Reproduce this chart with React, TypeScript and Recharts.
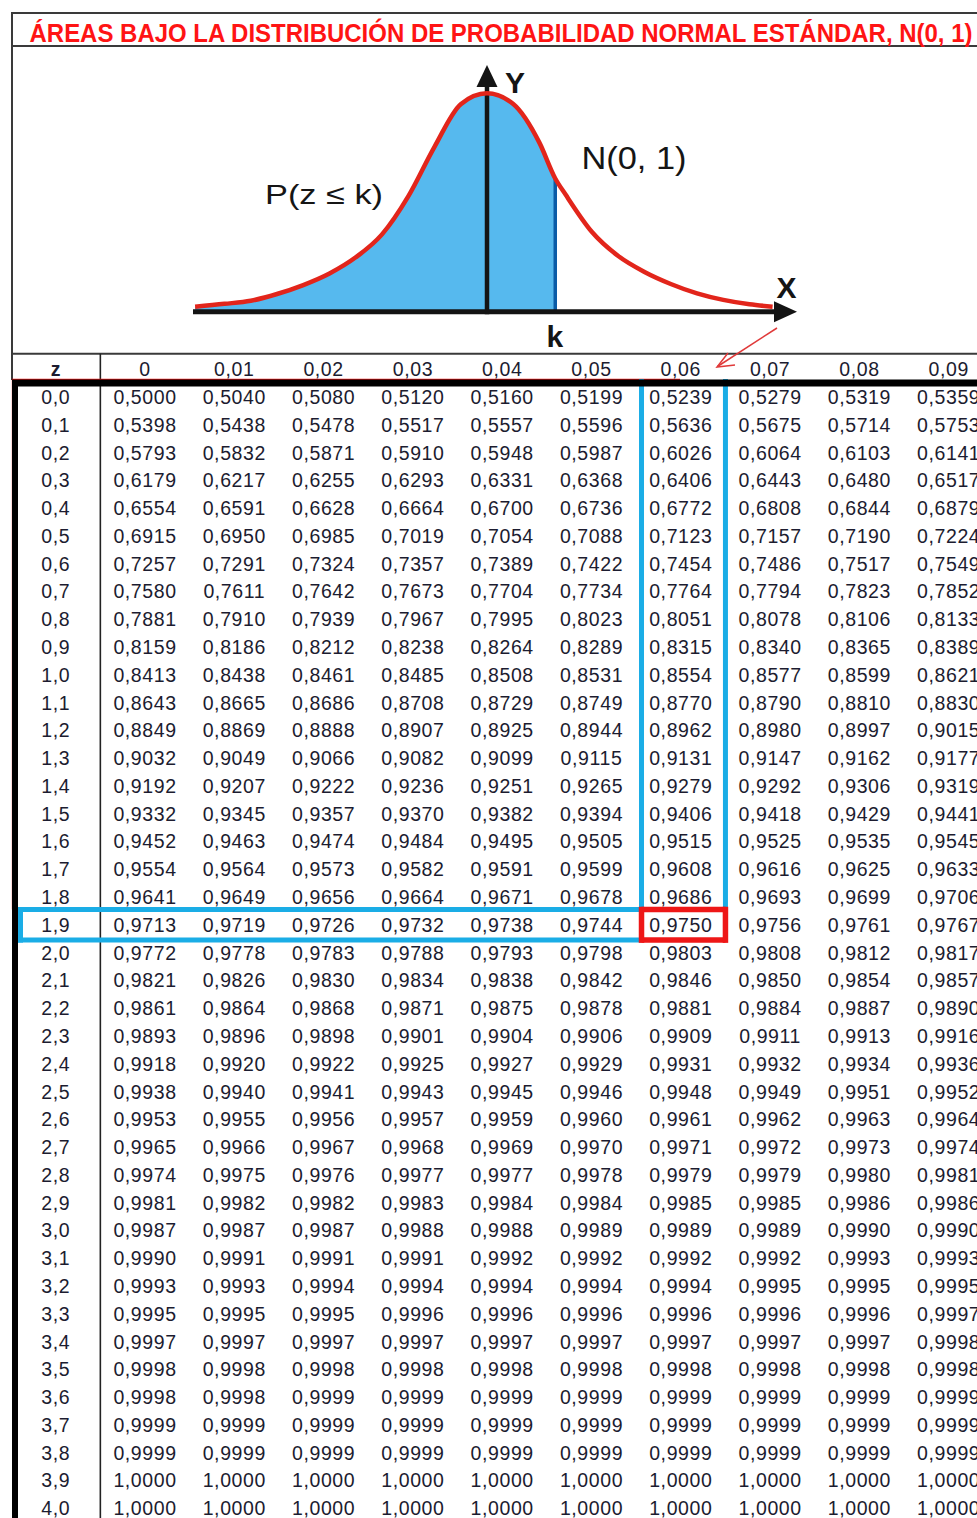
import React from 'react';
import {
  ComposedChart,
  Area,
  Line,
  XAxis,
  YAxis,
  ReferenceLine,
  ScatterChart,
  Scatter,
} from 'recharts';

// ---------- Curve ----------
const zCurva = [-2.78, -2.5, -2.25, -2.0, -1.75, -1.5, -1.25, -1.0, -0.75, -0.5, -0.25, 0, 0.25, 0.5, 0.65, 0.75, 1.0, 1.25, 1.5, 1.75, 2.0, 2.25, 2.5, 2.72];
const densidadCurva = [0.023, 0.036, 0.05, 0.081, 0.122, 0.175, 0.249, 0.354, 0.528, 0.755, 0.95, 1.0, 0.951, 0.773, 0.61, 0.535, 0.365, 0.255, 0.182, 0.127, 0.084, 0.054, 0.034, 0.023];
const kValor = 0.65;

// ---------- Table ----------
const titulo = 'ÁREAS BAJO LA DISTRIBUCIÓN DE PROBABILIDAD NORMAL ESTÁNDAR, N(0, 1)';
const encabezadoColumnas = ['0', '0,01', '0,02', '0,03', '0,04', '0,05', '0,06', '0,07', '0,08', '0,09'];
const etiquetasZ = [
  '0,0', '0,1', '0,2', '0,3', '0,4', '0,5', '0,6', '0,7', '0,8', '0,9',
  '1,0', '1,1', '1,2', '1,3', '1,4', '1,5', '1,6', '1,7', '1,8', '1,9',
  '2,0', '2,1', '2,2', '2,3', '2,4', '2,5', '2,6', '2,7', '2,8', '2,9',
  '3,0', '3,1', '3,2', '3,3', '3,4', '3,5', '3,6', '3,7', '3,8', '3,9', '4,0',
];
const tabla: number[][] = [
  [0.5000, 0.5040, 0.5080, 0.5120, 0.5160, 0.5199, 0.5239, 0.5279, 0.5319, 0.5359],
  [0.5398, 0.5438, 0.5478, 0.5517, 0.5557, 0.5596, 0.5636, 0.5675, 0.5714, 0.5753],
  [0.5793, 0.5832, 0.5871, 0.5910, 0.5948, 0.5987, 0.6026, 0.6064, 0.6103, 0.6141],
  [0.6179, 0.6217, 0.6255, 0.6293, 0.6331, 0.6368, 0.6406, 0.6443, 0.6480, 0.6517],
  [0.6554, 0.6591, 0.6628, 0.6664, 0.6700, 0.6736, 0.6772, 0.6808, 0.6844, 0.6879],
  [0.6915, 0.6950, 0.6985, 0.7019, 0.7054, 0.7088, 0.7123, 0.7157, 0.7190, 0.7224],
  [0.7257, 0.7291, 0.7324, 0.7357, 0.7389, 0.7422, 0.7454, 0.7486, 0.7517, 0.7549],
  [0.7580, 0.7611, 0.7642, 0.7673, 0.7704, 0.7734, 0.7764, 0.7794, 0.7823, 0.7852],
  [0.7881, 0.7910, 0.7939, 0.7967, 0.7995, 0.8023, 0.8051, 0.8078, 0.8106, 0.8133],
  [0.8159, 0.8186, 0.8212, 0.8238, 0.8264, 0.8289, 0.8315, 0.8340, 0.8365, 0.8389],
  [0.8413, 0.8438, 0.8461, 0.8485, 0.8508, 0.8531, 0.8554, 0.8577, 0.8599, 0.8621],
  [0.8643, 0.8665, 0.8686, 0.8708, 0.8729, 0.8749, 0.8770, 0.8790, 0.8810, 0.8830],
  [0.8849, 0.8869, 0.8888, 0.8907, 0.8925, 0.8944, 0.8962, 0.8980, 0.8997, 0.9015],
  [0.9032, 0.9049, 0.9066, 0.9082, 0.9099, 0.9115, 0.9131, 0.9147, 0.9162, 0.9177],
  [0.9192, 0.9207, 0.9222, 0.9236, 0.9251, 0.9265, 0.9279, 0.9292, 0.9306, 0.9319],
  [0.9332, 0.9345, 0.9357, 0.9370, 0.9382, 0.9394, 0.9406, 0.9418, 0.9429, 0.9441],
  [0.9452, 0.9463, 0.9474, 0.9484, 0.9495, 0.9505, 0.9515, 0.9525, 0.9535, 0.9545],
  [0.9554, 0.9564, 0.9573, 0.9582, 0.9591, 0.9599, 0.9608, 0.9616, 0.9625, 0.9633],
  [0.9641, 0.9649, 0.9656, 0.9664, 0.9671, 0.9678, 0.9686, 0.9693, 0.9699, 0.9706],
  [0.9713, 0.9719, 0.9726, 0.9732, 0.9738, 0.9744, 0.9750, 0.9756, 0.9761, 0.9767],
  [0.9772, 0.9778, 0.9783, 0.9788, 0.9793, 0.9798, 0.9803, 0.9808, 0.9812, 0.9817],
  [0.9821, 0.9826, 0.9830, 0.9834, 0.9838, 0.9842, 0.9846, 0.9850, 0.9854, 0.9857],
  [0.9861, 0.9864, 0.9868, 0.9871, 0.9875, 0.9878, 0.9881, 0.9884, 0.9887, 0.9890],
  [0.9893, 0.9896, 0.9898, 0.9901, 0.9904, 0.9906, 0.9909, 0.9911, 0.9913, 0.9916],
  [0.9918, 0.9920, 0.9922, 0.9925, 0.9927, 0.9929, 0.9931, 0.9932, 0.9934, 0.9936],
  [0.9938, 0.9940, 0.9941, 0.9943, 0.9945, 0.9946, 0.9948, 0.9949, 0.9951, 0.9952],
  [0.9953, 0.9955, 0.9956, 0.9957, 0.9959, 0.9960, 0.9961, 0.9962, 0.9963, 0.9964],
  [0.9965, 0.9966, 0.9967, 0.9968, 0.9969, 0.9970, 0.9971, 0.9972, 0.9973, 0.9974],
  [0.9974, 0.9975, 0.9976, 0.9977, 0.9977, 0.9978, 0.9979, 0.9979, 0.9980, 0.9981],
  [0.9981, 0.9982, 0.9982, 0.9983, 0.9984, 0.9984, 0.9985, 0.9985, 0.9986, 0.9986],
  [0.9987, 0.9987, 0.9987, 0.9988, 0.9988, 0.9989, 0.9989, 0.9989, 0.9990, 0.9990],
  [0.9990, 0.9991, 0.9991, 0.9991, 0.9992, 0.9992, 0.9992, 0.9992, 0.9993, 0.9993],
  [0.9993, 0.9993, 0.9994, 0.9994, 0.9994, 0.9994, 0.9994, 0.9995, 0.9995, 0.9995],
  [0.9995, 0.9995, 0.9995, 0.9996, 0.9996, 0.9996, 0.9996, 0.9996, 0.9996, 0.9997],
  [0.9997, 0.9997, 0.9997, 0.9997, 0.9997, 0.9997, 0.9997, 0.9997, 0.9997, 0.9998],
  [0.9998, 0.9998, 0.9998, 0.9998, 0.9998, 0.9998, 0.9998, 0.9998, 0.9998, 0.9998],
  [0.9998, 0.9998, 0.9999, 0.9999, 0.9999, 0.9999, 0.9999, 0.9999, 0.9999, 0.9999],
  [0.9999, 0.9999, 0.9999, 0.9999, 0.9999, 0.9999, 0.9999, 0.9999, 0.9999, 0.9999],
  [0.9999, 0.9999, 0.9999, 0.9999, 0.9999, 0.9999, 0.9999, 0.9999, 0.9999, 0.9999],
  [1.0000, 1.0000, 1.0000, 1.0000, 1.0000, 1.0000, 1.0000, 1.0000, 1.0000, 1.0000],
  [1.0000, 1.0000, 1.0000, 1.0000, 1.0000, 1.0000, 1.0000, 1.0000, 1.0000, 1.0000],
];
const filaResaltada = 19; // z = 1,9
const colResaltada = 6; // 0,06

// ---------- Layout ----------
const W = 977;
const H = 1518;
const FONT = '"Liberation Sans", Arial, Helvetica, sans-serif';
const colX0 = 145;
const colPaso = 89.3;
const filaY0 = 397;
const filaPaso = 27.78;
const cx = (px: number) => (px - colX0) / colPaso;
const ry = (py: number) => (py - filaY0) / filaPaso;

// Curve chart box
const curvaLeft = 150;
const curvaTop = 50;
const curvaW = 700;
const curvaH = 290;
const zOrigenPx = 487;
const zEscala = 105;
const baseYPx = 311.7;
const altoPico = 218.4;
const zDom: [number, number] = [(curvaLeft - zOrigenPx) / zEscala, (curvaLeft + curvaW - zOrigenPx) / zEscala];
const yDom: [number, number] = [(baseYPx - (curvaTop + curvaH)) / altoPico, (baseYPx - curvaTop) / altoPico];

const datosCurva = zCurva.map((z, i) => ({
  z,
  densidad: densidadCurva[i],
  sombra: z <= kValor + 1e-9 ? densidadCurva[i] : null,
}));
const densidadK = densidadCurva[zCurva.indexOf(kValor)];

type Celda = { col: number; row: number; texto: string; bold?: boolean };
const celdas: Celda[] = [];
tabla.forEach((fila, r) =>
  fila.forEach((v, c) => celdas.push({ col: c, row: r, texto: v.toFixed(4).replace('.', ',') }))
);
etiquetasZ.forEach((t, r) => celdas.push({ col: -1, row: r, texto: t }));
encabezadoColumnas.forEach((t, c) => celdas.push({ col: c, row: -1, texto: t }));
celdas.push({ col: -1, row: -1, texto: 'z', bold: true });

const TextoCelda = (props: any) => {
  const { cx: x, cy: y, payload } = props;
  if (x == null || y == null) return null;
  return (
    <text
      x={x}
      y={y + 7}
      textAnchor="middle"
      fontSize={19.5}
      letterSpacing={payload.bold ? 0 : 0.6}
      fontWeight={payload.bold ? 'bold' : 'normal'}
      fill="#1c1c30"
      fontFamily={FONT}
    >
      {payload.texto}
    </text>
  );
};

const FlechaX = (props: any) => {
  const { x1, y1, x2, y2 } = props;
  return (
    <g>
      <line x1={x1} y1={y1} x2={x2 - 18} y2={y2} stroke="#141414" strokeWidth={5} />
      <polygon points={`${x2},${y2} ${x2 - 23},${y2 - 10.5} ${x2 - 23},${y2 + 10.5}`} fill="#141414" />
    </g>
  );
};

const FlechaY = (props: any) => {
  const { x1, y1, x2, y2 } = props;
  return (
    <g>
      <line x1={x1} y1={y1 + 2.5} x2={x2} y2={y2 + 18} stroke="#141414" strokeWidth={4.5} />
      <polygon points={`${x2},${y2} ${x2 - 10.5},${y2 + 22} ${x2 + 10.5},${y2 + 22}`} fill="#141414" />
    </g>
  );
};

const gris = '#3a3a3a';
const azul = '#1aade6';
const rojo = '#ee1717';

type Seg = { a: [number, number]; b: [number, number]; color: string; w: number };
// table lines in table-data units (columns / rows)
const lineasTabla: Seg[] = [
  { a: [cx(11), ry(13)], b: [cx(977), ry(13)], color: gris, w: 2 },
  { a: [cx(11), ry(46)], b: [cx(977), ry(46)], color: gris, w: 2 },
  { a: [cx(12), ry(12)], b: [cx(12), ry(380)], color: gris, w: 2 },
  { a: [cx(12), ry(353.8)], b: [cx(977), ry(353.8)], color: gris, w: 2 },
  { a: [-0.5, ry(353.8)], b: [-0.5, ry(H)], color: '#222', w: 1.6 },
  // red frame
  { a: [cx(12), ry(379.5)], b: [cx(680), ry(379.5)], color: rojo, w: 1.5 },
  { a: [cx(12.6), ry(379.5)], b: [cx(12.6), filaResaltada - 0.55], color: rojo, w: 1.5 },
  // blue column
  { a: [colResaltada - 0.44, ry(379)], b: [colResaltada - 0.44, filaResaltada - 0.45], color: azul, w: 5 },
  { a: [colResaltada + 0.5, ry(379)], b: [colResaltada + 0.5, filaResaltada - 0.45], color: azul, w: 5 },
  // blue row
  { a: [cx(18), filaResaltada - 0.55], b: [colResaltada - 0.44, filaResaltada - 0.55], color: azul, w: 5 },
  { a: [cx(18), filaResaltada + 0.55], b: [colResaltada - 0.44, filaResaltada + 0.55], color: azul, w: 5 },
  { a: [cx(20.5), filaResaltada - 0.64], b: [cx(20.5), filaResaltada + 0.64], color: azul, w: 5 },
  // red box
  { a: [colResaltada - 0.44, filaResaltada - 0.55], b: [colResaltada + 0.5, filaResaltada - 0.55], color: rojo, w: 5.5 },
  { a: [colResaltada - 0.44, filaResaltada + 0.55], b: [colResaltada + 0.5, filaResaltada + 0.55], color: rojo, w: 5.5 },
  { a: [colResaltada - 0.44, filaResaltada - 0.65], b: [colResaltada - 0.44, filaResaltada + 0.65], color: rojo, w: 5.5 },
  { a: [colResaltada + 0.5, filaResaltada - 0.65], b: [colResaltada + 0.5, filaResaltada + 0.65], color: rojo, w: 5.5 },
  // thick black frame
  { a: [cx(12), -0.5], b: [cx(977), -0.5], color: '#000', w: 7 },
  { a: [cx(15), ry(380)], b: [cx(15), ry(H)], color: '#000', w: 6 },
];

export default function App() {
  return (
    <div
      style={{
        position: 'absolute',
        left: 0,
        top: 0,
        width: W,
        height: H,
        background: '#fff',
        overflow: 'hidden',
        fontFamily: FONT,
      }}
    >
      {/* Table */}
      <div style={{ position: 'absolute', left: 0, top: 0 }}>
        <ScatterChart width={W} height={H} margin={{ top: 0, right: 0, bottom: 0, left: 0 }}>
          <XAxis dataKey="col" type="number" domain={[cx(0), cx(W)]} hide allowDataOverflow />
          <YAxis dataKey="row" type="number" domain={[ry(0), ry(H)]} hide allowDataOverflow reversed />
          {lineasTabla.map((s, i) => (
            <ReferenceLine
              key={i}
              segment={[{ x: s.a[0], y: s.a[1] }, { x: s.b[0], y: s.b[1] }]}
              stroke={s.color}
              strokeWidth={s.w}
              ifOverflow="visible"
            />
          ))}
          <Scatter data={celdas} shape={TextoCelda} isAnimationActive={false} />
        </ScatterChart>
      </div>

      {/* Curve */}
      <div style={{ position: 'absolute', left: curvaLeft, top: curvaTop }}>
        <ComposedChart width={curvaW} height={curvaH} data={datosCurva} margin={{ top: 0, right: 0, bottom: 0, left: 0 }}>
          <XAxis dataKey="z" type="number" domain={zDom} hide allowDataOverflow />
          <YAxis type="number" domain={yDom} hide allowDataOverflow />
          <Area
            dataKey="sombra"
            type="monotone"
            fill="#56b9ee"
            fillOpacity={1}
            stroke="none"
            baseValue={0}
            isAnimationActive={false}
          />
          <ReferenceLine
            segment={[{ x: kValor, y: 0 }, { x: kValor, y: densidadK }]}
            stroke="#0a5ba6"
            strokeWidth={3.5}
            ifOverflow="visible"
          />
          <ReferenceLine
            segment={[{ x: -2.8, y: 0 }, { x: (797 - zOrigenPx) / zEscala, y: 0 }]}
            shape={FlechaX}
            ifOverflow="visible"
          />
          <ReferenceLine
            segment={[{ x: 0, y: 0 }, { x: 0, y: (baseYPx - 65) / altoPico }]}
            shape={FlechaY}
            ifOverflow="visible"
          />
          <Line
            dataKey="densidad"
            type="monotone"
            stroke="#e2251b"
            strokeWidth={4.5}
            dot={false}
            isAnimationActive={false}
          />
        </ComposedChart>
      </div>

      {/* Texts and annotation */}
      <svg width={W} height={H} style={{ position: 'absolute', left: 0, top: 0, pointerEvents: 'none' }}>
        <text
          x={29.5}
          y={41.5}
          fontSize={25}
          fontWeight="bold"
          fill="#ff1414"
          fontFamily={FONT}
          textLength={943}
          lengthAdjust="spacingAndGlyphs"
        >
          {titulo}
        </text>
        <text x={505} y={93} fontSize={30} fontWeight="bold" fill="#151515" fontFamily={FONT}>Y</text>
        <text x={776.5} y={298} fontSize={30} fontWeight="bold" fill="#151515" fontFamily={FONT}>X</text>
        <text x={546.5} y={346.5} fontSize={30} fontWeight="bold" fill="#151515" fontFamily={FONT}>k</text>
        <text x={581.5} y={168.5} fontSize={31} fill="#151515" fontFamily={FONT} textLength={105} lengthAdjust="spacingAndGlyphs">N(0, 1)</text>
        <text x={265} y={203.5} fontSize={28} fill="#151515" fontFamily={FONT} textLength={118} lengthAdjust="spacingAndGlyphs">P(z ≤ k)</text>
        <line x1={777} y1={328} x2={717.5} y2={366.5} stroke="#e03a3a" strokeWidth={1.5} />
        <polyline points="728,353 717,367 735,365" fill="none" stroke="#e03a3a" strokeWidth={1.5} />
      </svg>
    </div>
  );
}
